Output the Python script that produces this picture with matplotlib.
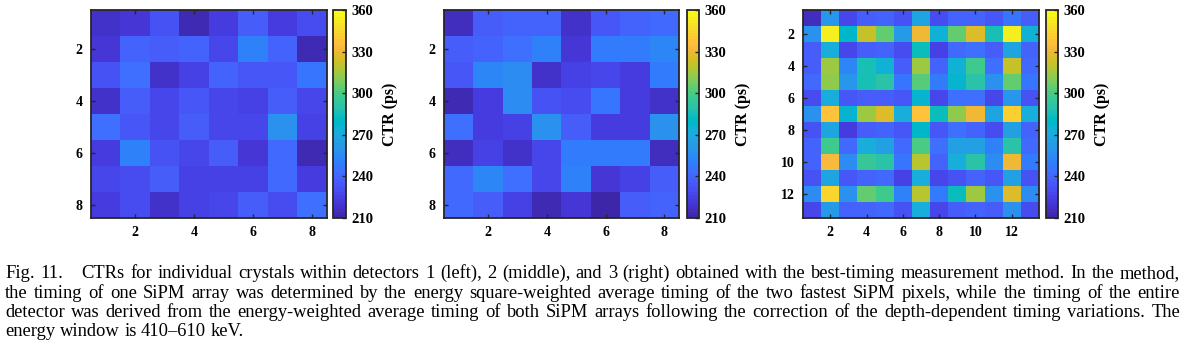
"""
CTR maps for the three detectors (best-timing method), with figure caption.
Output: out.png
"""

import numpy as np
import matplotlib
matplotlib.use("Agg")
import matplotlib.pyplot as plt
from matplotlib.colors import ListedColormap

# ── Data (CTR in ps, row 1 at top) ────────────────────────────────────────────
DET1_CTR = [
    [218, 220, 232, 214, 222, 236, 224, 230],
    [220, 240, 236, 240, 228, 250, 240, 213],
    [232, 245, 218, 226, 240, 234, 234, 246],
    [219, 238, 227, 234, 228, 226, 236, 228],
    [243, 234, 228, 236, 228, 228, 258, 226],
    [222, 250, 233, 228, 236, 221, 242, 213],
    [227, 230, 238, 226, 226, 225, 242, 222],
    [223, 231, 219, 225, 227, 238, 229, 243],
]
DET2_CTR = [
    [215, 238, 240, 240, 218, 234, 240, 241],
    [238, 239, 244, 250, 220, 248, 248, 254],
    [235, 254, 255, 219, 226, 228, 222, 248],
    [214, 223, 255, 232, 230, 246, 224, 218],
    [244, 222, 226, 259, 236, 223, 224, 258],
    [216, 225, 219, 228, 248, 248, 248, 217],
    [242, 254, 244, 228, 252, 221, 226, 238],
    [242, 238, 225, 214, 220, 212, 238, 240],
]
DET3_CTR = [
    [216, 260, 228, 236, 240, 232, 268, 230, 240, 240, 234, 246, 238],
    [258, 355, 278, 322, 305, 262, 330, 275, 305, 325, 287, 355, 275],
    [236, 272, 228, 238, 240, 230, 284, 226, 242, 245, 238, 268, 240],
    [238, 315, 254, 285, 274, 236, 315, 240, 274, 298, 244, 322, 242],
    [242, 312, 260, 287, 290, 246, 302, 248, 276, 290, 258, 305, 246],
    [230, 272, 234, 238, 238, 234, 276, 228, 244, 244, 228, 260, 232],
    [258, 338, 276, 315, 325, 272, 338, 284, 312, 330, 268, 342, 272],
    [232, 268, 224, 238, 240, 234, 280, 234, 245, 240, 230, 265, 240],
    [240, 298, 242, 272, 264, 242, 300, 245, 266, 264, 250, 290, 242],
    [240, 332, 255, 295, 290, 246, 320, 240, 272, 292, 255, 330, 248],
    [232, 268, 234, 240, 242, 225, 272, 228, 232, 240, 234, 265, 232],
    [255, 345, 258, 305, 298, 250, 320, 248, 284, 315, 258, 325, 255],
    [228, 262, 240, 240, 242, 232, 272, 228, 238, 240, 238, 258, 230],
]
CBAR_TICKS = [210, 240, 270, 300, 330, 360]

CAPTION = [
    "Fig. 11. CTRs for individual crystals within detectors 1 (left), 2 (middle), "
    "and 3 (right) obtained with the best-timing measurement method. In the method,",
    "the timing of one SiPM array was determined by the energy square-weighted "
    "average timing of the two fastest SiPM pixels, while the timing of the entire",
    "detector was derived from the energy-weighted average timing of both SiPM "
    "arrays following the correction of the depth-dependent timing variations. The",
    "energy window is 410\u2013610 keV.",
]

# ── Style ─────────────────────────────────────────────────────────────────────
SERIF = "Liberation Serif"
FRAME = "#262626"
W_PX, H_PX = 1185, 342

# MATLAB parula (64 entries)
PARULA = ListedColormap([
    (0.2422, 0.1504, 0.6603), (0.2504, 0.1650, 0.7076), (0.2578, 0.1818, 0.7511),
    (0.2647, 0.1978, 0.7952), (0.2706, 0.2147, 0.8364), (0.2751, 0.2342, 0.8710),
    (0.2783, 0.2559, 0.8991), (0.2803, 0.2782, 0.9221), (0.2813, 0.3006, 0.9414),
    (0.2810, 0.3228, 0.9579), (0.2795, 0.3447, 0.9717), (0.2760, 0.3667, 0.9829),
    (0.2699, 0.3892, 0.9906), (0.2602, 0.4123, 0.9952), (0.2440, 0.4358, 0.9988),
    (0.2206, 0.4603, 0.9973), (0.1963, 0.4847, 0.9892), (0.1834, 0.5074, 0.9798),
    (0.1786, 0.5289, 0.9682), (0.1764, 0.5499, 0.9520), (0.1687, 0.5703, 0.9359),
    (0.1540, 0.5902, 0.9218), (0.1460, 0.6091, 0.9079), (0.1380, 0.6276, 0.8973),
    (0.1248, 0.6459, 0.8883), (0.1113, 0.6635, 0.8763), (0.0952, 0.6798, 0.8598),
    (0.0689, 0.6948, 0.8394), (0.0297, 0.7082, 0.8163), (0.0036, 0.7203, 0.7917),
    (0.0067, 0.7312, 0.7660), (0.0433, 0.7411, 0.7394), (0.0964, 0.7500, 0.7120),
    (0.1408, 0.7584, 0.6842), (0.1717, 0.7670, 0.6554), (0.1938, 0.7758, 0.6251),
    (0.2161, 0.7843, 0.5923), (0.2470, 0.7918, 0.5567), (0.2906, 0.7973, 0.5188),
    (0.3406, 0.8008, 0.4789), (0.3909, 0.8029, 0.4354), (0.4456, 0.8024, 0.3909),
    (0.5044, 0.7993, 0.3480), (0.5616, 0.7942, 0.3045), (0.6174, 0.7876, 0.2612),
    (0.6720, 0.7793, 0.2227), (0.7242, 0.7698, 0.1910), (0.7738, 0.7598, 0.1646),
    (0.8203, 0.7498, 0.1535), (0.8634, 0.7406, 0.1596), (0.9035, 0.7330, 0.1774),
    (0.9393, 0.7288, 0.2100), (0.9728, 0.7298, 0.2394), (0.9956, 0.7434, 0.2371),
    (0.9970, 0.7659, 0.2199), (0.9952, 0.7893, 0.2028), (0.9892, 0.8136, 0.1885),
    (0.9786, 0.8386, 0.1766), (0.9676, 0.8639, 0.1643), (0.9610, 0.8890, 0.1537),
    (0.9597, 0.9135, 0.1423), (0.9628, 0.9373, 0.1265), (0.9691, 0.9606, 0.1064),
    (0.9769, 0.9839, 0.0805),
], name="parula")


def px_box(x0, x1, ytop, ybot):
    """Pixel box -> figure fraction [left, bottom, width, height]."""
    return [x0 / W_PX, 1 - ybot / H_PX, (x1 - x0) / W_PX, (ybot - ytop) / H_PX]


def draw_map(fig, data, ax_px, cb_px, ticks):
    data = np.asarray(data, dtype=float)
    n = data.shape[0]
    ax = fig.add_axes(px_box(*ax_px))
    im = ax.imshow(data, cmap=PARULA, vmin=210, vmax=360, aspect="auto",
                   interpolation="nearest",
                   extent=(0.5, n + 0.5, n + 0.5, 0.5))
    ax.set_xticks(ticks)
    ax.set_yticks(ticks)
    ax.tick_params(direction="in", length=3, width=1, color=FRAME,
                   top=True, right=True, pad=6)
    for lab in ax.get_xticklabels() + ax.get_yticklabels():
        lab.set_fontfamily(SERIF)
        lab.set_fontweight("bold")
        lab.set_fontsize(10)
    for sp in ax.spines.values():
        sp.set_color(FRAME)
        sp.set_linewidth(1.3)

    cax = fig.add_axes(px_box(*cb_px))
    cb = fig.colorbar(im, cax=cax, ticks=CBAR_TICKS)
    cb.outline.set_edgecolor(FRAME)
    cb.outline.set_linewidth(1.3)
    cax.tick_params(direction="in", length=3, width=1, color=FRAME, pad=4)
    for lab in cax.get_yticklabels():
        lab.set_fontfamily(SERIF)
        lab.set_fontweight("bold")
        lab.set_fontsize(10.5)
    cb.set_label("CTR (ps)", fontfamily=SERIF, fontweight="bold",
                 fontsize=11.5, labelpad=6)
    return ax


def draw_caption(fig, lines, x0, x1, baselines, size):
    """Fully justified caption (last line flush left), placed word by word."""
    renderer = fig.canvas.get_renderer()
    space = 0.25 * size * fig.dpi / 72
    for k, (line, yb) in enumerate(zip(lines, baselines)):
        words = line.split(" ")
        widths = []
        for w in words:
            t = fig.text(0, 0, w, fontsize=size, family=SERIF)
            widths.append(t.get_window_extent(renderer).width)
            t.remove()
        extra = [13.0 if w == "11." else 0.0 for w in words[:-1]]
        if k == len(lines) - 1:
            gaps = [space + e for e in extra]
        else:
            free = (x1 - x0) - sum(widths) - sum(extra)
            gaps = [free / (len(words) - 1) + e for e in extra]
        x = x0
        for i, w in enumerate(words):
            fig.text(x / W_PX, 1 - yb / H_PX, w, fontsize=size, family=SERIF,
                     ha="left", va="baseline")
            if i < len(gaps):
                x += widths[i] + gaps[i]


def main():
    fig = plt.figure(figsize=(W_PX / 100, H_PX / 100), dpi=100)

    draw_map(fig, DET1_CTR, (91, 327, 10, 218), (333, 346, 10, 218), [2, 4, 6, 8])
    draw_map(fig, DET2_CTR, (444, 679, 10, 218), (687, 699, 10, 218), [2, 4, 6, 8])
    draw_map(fig, DET3_CTR, (803, 1039, 10, 218), (1046, 1058, 10, 218),
             [2, 4, 6, 8, 10, 12])

    draw_caption(fig, CAPTION, 5, 1180, [278, 297.5, 317, 336.5], 13.3)

    fig.savefig("out.png", dpi=100)
    plt.close(fig)


if __name__ == "__main__":
    main()
